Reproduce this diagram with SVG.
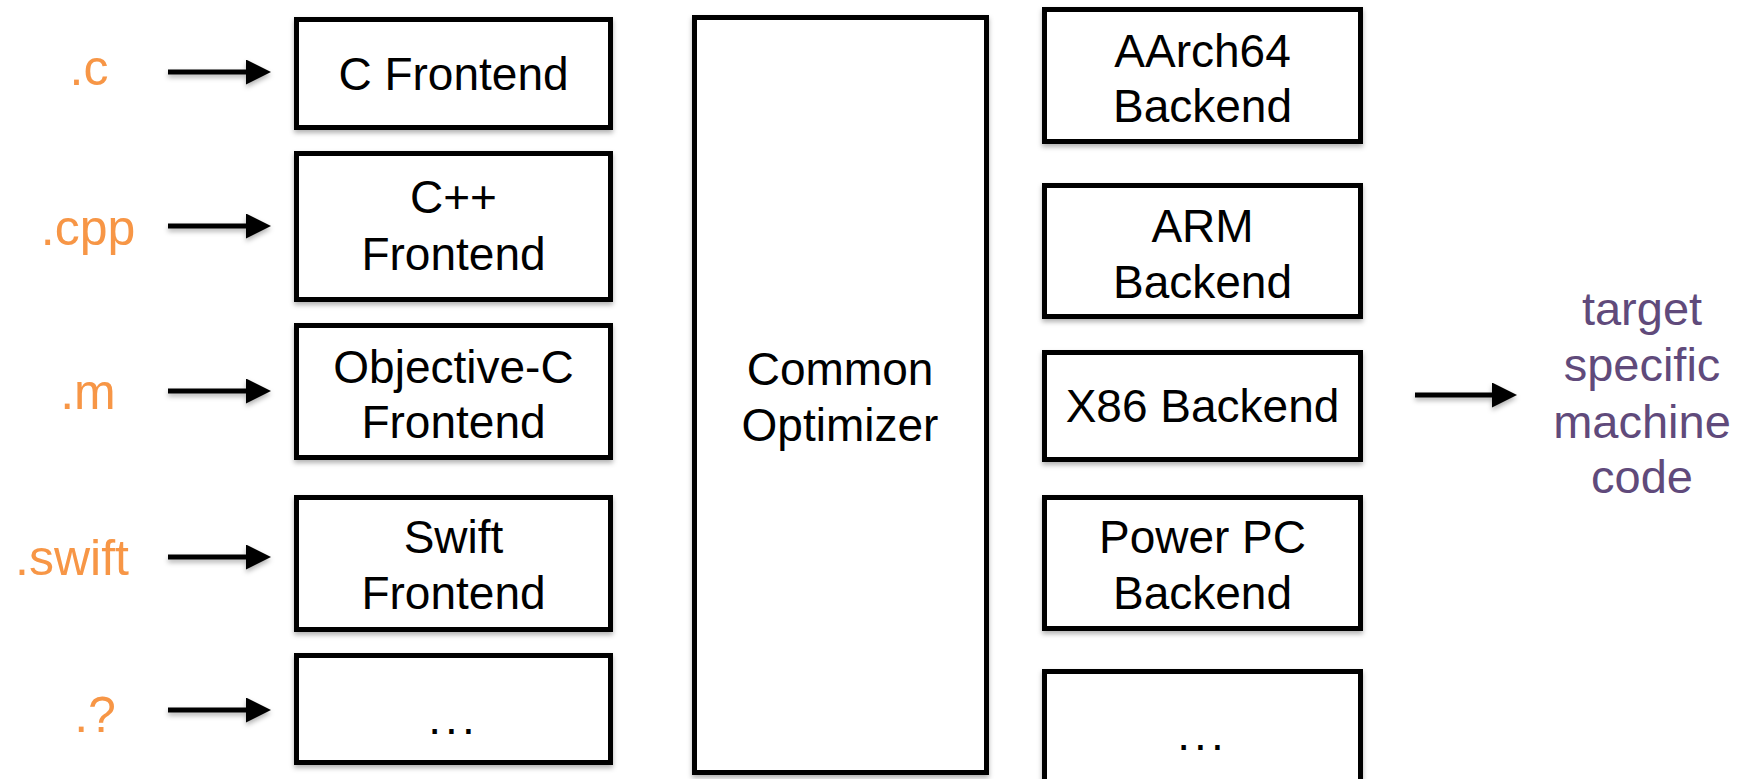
<svg xmlns="http://www.w3.org/2000/svg" width="1752" height="779" viewBox="0 0 1752 779">
<style>
.box{fill:#fff;stroke:#000;stroke-width:5}
.t{font-family:"Liberation Sans",Arial,sans-serif;font-size:46px;fill:#000;text-anchor:middle}
.ext{font-family:"Liberation Sans",Arial,sans-serif;font-size:50px;fill:#F79646;text-anchor:middle}
.out{font-family:"Liberation Sans",Arial,sans-serif;font-size:47px;fill:#604A7B;text-anchor:middle}
.arr{stroke:#000;stroke-width:5;fill:none}
</style>
<defs>
<filter id="sh" x="-10%" y="-10%" width="120%" height="130%">
<feDropShadow dx="0" dy="3" stdDeviation="2.5" flood-color="#000" flood-opacity="0.3"/>
</filter>
<marker id="ah" markerUnits="userSpaceOnUse" markerWidth="26" markerHeight="26" refX="4" refY="12.5" orient="auto">
<path d="M0,0 L25,12.5 L0,25 z" fill="#000"/>
</marker>
</defs>

<g id="inputs">
<text class="ext" x="89" y="85">.c</text>
<text class="ext" x="88" y="245">.cpp</text>
<text class="ext" x="88" y="409">.m</text>
<text class="ext" x="72" y="575">.swift</text>
<text class="ext" x="95" y="732">.?</text>
</g>

<g id="connectors" filter="url(#sh)">
<line class="arr" x1="168" y1="72" x2="250" y2="72" marker-end="url(#ah)"/>
<line class="arr" x1="168" y1="226" x2="250" y2="226" marker-end="url(#ah)"/>
<line class="arr" x1="168" y1="391" x2="250" y2="391" marker-end="url(#ah)"/>
<line class="arr" x1="168" y1="557" x2="250" y2="557" marker-end="url(#ah)"/>
<line class="arr" x1="168" y1="710" x2="250" y2="710" marker-end="url(#ah)"/>
<line class="arr" x1="1415" y1="395" x2="1496" y2="395" marker-end="url(#ah)"/>
</g>

<g id="c-frontend"><rect class="box" filter="url(#sh)" x="296.5" y="19.5" width="314" height="108"/><text class="t" x="453.5" y="90">C Frontend</text></g>
<g id="cpp-frontend"><rect class="box" filter="url(#sh)" x="296.5" y="153.5" width="314" height="146"/><text class="t" x="453.5" y="213">C++</text><text class="t" x="453.5" y="270">Frontend</text></g>
<g id="objc-frontend"><rect class="box" filter="url(#sh)" x="296.5" y="325.5" width="314" height="132"/><text class="t" x="453.5" y="383">Objective-C</text><text class="t" x="453.5" y="438">Frontend</text></g>
<g id="swift-frontend"><rect class="box" filter="url(#sh)" x="296.5" y="497.5" width="314" height="132"/><text class="t" x="453.5" y="553">Swift</text><text class="t" x="453.5" y="609">Frontend</text></g>
<g id="other-frontend"><rect class="box" filter="url(#sh)" x="296.5" y="655.5" width="314" height="107"/><text class="t" x="453.5" y="734" letter-spacing="4">...</text></g>

<g id="optimizer"><rect class="box" filter="url(#sh)" x="694.5" y="17.5" width="292" height="755"/><text class="t" x="840" y="385">Common</text><text class="t" x="840" y="441">Optimizer</text></g>

<g id="aarch64-backend"><rect class="box" filter="url(#sh)" x="1044.5" y="9.5" width="316" height="132"/><text class="t" x="1202.5" y="67">AArch64</text><text class="t" x="1202.5" y="122">Backend</text></g>
<g id="arm-backend"><rect class="box" filter="url(#sh)" x="1044.5" y="185.5" width="316" height="131"/><text class="t" x="1202.5" y="242">ARM</text><text class="t" x="1202.5" y="298">Backend</text></g>
<g id="x86-backend"><rect class="box" filter="url(#sh)" x="1044.5" y="352.5" width="316" height="107"/><text class="t" x="1202.5" y="422">X86 Backend</text></g>
<g id="ppc-backend"><rect class="box" filter="url(#sh)" x="1044.5" y="497.5" width="316" height="131"/><text class="t" x="1202.5" y="553">Power PC</text><text class="t" x="1202.5" y="609">Backend</text></g>
<g id="other-backend"><rect class="box" filter="url(#sh)" x="1044.5" y="671.5" width="316" height="130"/><text class="t" x="1202.5" y="750" letter-spacing="4">...</text></g>

<g id="output">
<text class="out" x="1642" y="325">target</text>
<text class="out" x="1642" y="381">specific</text>
<text class="out" x="1642" y="438">machine</text>
<text class="out" x="1642" y="493">code</text>
</g>
</svg>
